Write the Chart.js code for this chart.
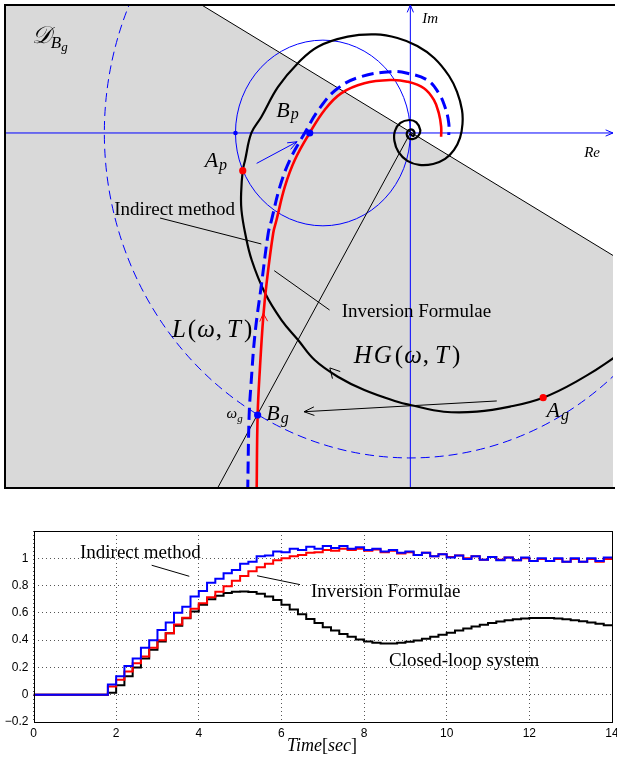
<!DOCTYPE html>
<html><head><meta charset="utf-8">
<script src="https://cdn.jsdelivr.net/npm/chart.js@4.4.1/dist/chart.umd.min.js"></script>
<style>
html,body{margin:0;padding:0;background:#fff;overflow:hidden;width:617px;height:760px;}
#top{position:absolute;left:0;top:0;}
#bot{position:absolute;left:0;top:500px;}
</style></head><body>
<canvas id="top" width="617" height="492"></canvas>
<canvas id="bot" width="640" height="260"></canvas>
<script>
// ================= TOP PANEL DATA (Re / Im plane) =================
const hgCurve = [[0,-0.01],[0.03,-0.028],[0.04,0.009],[0,0.033],[-0.035,0],[-0.02,-0.047],[0.03,-0.057],[0.08,-0.028],[0.10,0.028],[0.06,0.10],[-0.01,0.123],[-0.10,0.095],[-0.155,0.019],[-0.16,-0.076],[-0.12,-0.18],[-0.03,-0.265],[0.09,-0.303],[0.23,-0.294],[0.35,-0.246],[0.44,-0.161],[0.50,-0.047],[0.525,0.085],[0.52,0.218],[0.47,0.389],[0.39,0.540],[0.24,0.711],[0.07,0.825],[-0.13,0.900],[-0.35,0.934],[-0.63,0.913],[-0.93,0.818],[-1.13,0.664],[-1.33,0.439],[-1.50,0.152],[-1.60,0],[-1.663,-0.256],[-1.687,-0.357],[-1.703,-0.569],[-1.70,-0.73],[-1.663,-0.948],[-1.597,-1.204],[-1.463,-1.517],[-1.297,-1.773],[-1.13,-1.962],[-0.963,-2.152],[-0.73,-2.31],[-0.463,-2.436],[-0.13,-2.547],[0,-2.578],[0.337,-2.642],[0.67,-2.642],[1.003,-2.594],[1.337,-2.509],[1.67,-2.357],[2.04,-2.136],[2.27,-1.95]];
const lCurve = [[-1.637,-3.40],[-1.623,-2.689],[-1.603,-2.373],[-1.563,-1.899],[-1.497,-1.425],[-1.43,-0.948],[-1.397,-0.825],[-1.313,-0.509],[-1.213,-0.256],[-1.063,0],[-0.913,0.234],[-0.73,0.424],[-0.497,0.534],[-0.197,0.581],[-0.03,0.566],[0.17,0.502],[0.287,0.376],[0.353,0.234],[0.387,0.092],[0.387,-0.019]];
const invCurve = [[-1.547,-3.40],[-1.537,-2.673],[-1.513,-2.215],[-1.48,-1.741],[-1.447,-1.425],[-1.38,-0.948],[-1.347,-0.825],[-1.263,-0.509],[-1.163,-0.256],[-1.013,0],[-0.863,0.218],[-0.697,0.376],[-0.463,0.471],[-0.197,0.502],[-0.03,0.486],[0.137,0.424],[0.237,0.313],[0.287,0.187],[0.31,0.06],[0.31,-0.035]];
const regionEdge = [[-4.08,1.213],[-2.10,1.213],[2.04,-1.161]];
const diagonal = [[-2.10,1.213],[2.04,-1.161]];
const gainRay = [[0,0],[-1.94,-3.365]];
const reAxis = [[-4.08,0],[2.04,0]];
const imAxis = [[0,-3.365],[0,1.213]];
const apArrow = [[-1.547,-0.288],[-1.14,-0.083]];
const agArrow = [[0.87,-2.54],[-1.07,-2.642]];
const indirectPtr = [[-2.52,-0.806],[-1.50,-1.052]];
const inversionPtr = [[-1.37,-1.305],[-0.813,-1.678]];
const circleP = {x:-0.88, y:0, r:0.88};
const circleG = {x:0, y:0, r:3.08};
const redDots = [[-1.687,-0.357],[1.337,-2.509]];      // A_p, A_g
const blueDots = [[-1.013,0],[-1.537,-2.673]];        // B_p, B_g
const smallBlueDot = [[-1.76,0]];
const topRange = {xmin:-4.08, xmax:2.04, ymin:-3.365, ymax:1.213};

// ================= BOTTOM PANEL DATA (step responses) =================
const samplePeriod = 0.2;
const indirectResp = [0,0,0,0,0,0,0,0,0,
 0.075,0.135,0.21,0.265,0.345,0.40,0.475,0.53,0.60,0.645,0.72,0.76,0.82,0.85,0.89,0.915,0.96,0.975,1.015,1.02,1.05,1.045,1.07,1.06,1.085,1.07,1.09,1.075,1.09,1.07,1.08,1.06,1.07,1.05,1.06,1.04,1.05,1.025,1.04,1.015,1.03,1.005,1.02,0.995,1.015,0.99,1.01,0.985,1.005,0.985,1.005,0.98,1.0,0.98,1.0,0.975,1.0,0.975,1.0,0.98,1.005,1.005];
const inversionResp = [0,0,0,0,0,0,0,0,0,
 0.06,0.11,0.17,0.23,0.28,0.345,0.40,0.45,0.515,0.565,0.63,0.67,0.715,0.755,0.795,0.835,0.87,0.905,0.935,0.96,0.985,1.0,1.015,1.025,1.04,1.045,1.06,1.055,1.07,1.06,1.07,1.055,1.065,1.045,1.055,1.035,1.045,1.025,1.04,1.015,1.03,1.01,1.02,1.0,1.015,0.99,1.01,0.99,1.005,0.985,1.0,0.98,0.995,0.98,0.995,0.975,0.995,0.975,0.995,0.975,0.995,0.995];
const closedLoopResp = [0,0,0,0,0,0,0,0,0,
 0.015,0.07,0.135,0.20,0.265,0.33,0.39,0.45,0.505,0.56,0.61,0.66,0.70,0.725,0.745,0.755,0.757,0.752,0.74,0.72,0.695,0.66,0.625,0.59,0.555,0.525,0.495,0.47,0.445,0.425,0.405,0.39,0.38,0.375,0.376,0.38,0.388,0.398,0.41,0.424,0.44,0.455,0.47,0.485,0.50,0.513,0.525,0.536,0.546,0.553,0.559,0.562,0.563,0.562,0.558,0.553,0.546,0.538,0.53,0.52,0.51,0.505];
const timeTicks = [0,2,4,6,8,10,12,14];
const respTicks = [-0.2,0,0.2,0.4,0.6,0.8,1];

// ================= helpers =================
const SERIF = '"Liberation Serif","Times New Roman",serif';
const SANS = '"Liberation Sans",Arial,sans-serif';
const P = a => a.map(([x,y]) => ({x, y}));
function lineDs(arr, color, width, extra) {
  return Object.assign({data: P(arr), showLine: true, pointRadius: 0, borderColor: color,
    borderWidth: width, tension: 0, fill: false}, extra || {});
}
function rich(ctx, x, y, parts) {
  let cx = x;
  for (const p of parts) {
    ctx.font = p.f;
    ctx.fillText(p.t, cx, y + (p.dy || 0));
    cx += ctx.measureText(p.t).width + (p.sp || 0);
  }
}
function arrowHead(ctx, xs, ys, from, tip, color, len, half, lw) {
  const px = xs.getPixelForValue(tip[0]), py = ys.getPixelForValue(tip[1]);
  const qx = xs.getPixelForValue(from[0]), qy = ys.getPixelForValue(from[1]);
  const a = Math.atan2(py - qy, px - qx);
  ctx.save();
  ctx.strokeStyle = color; ctx.lineWidth = lw || 1;
  ctx.beginPath();
  ctx.moveTo(px - len * Math.cos(a - half), py - len * Math.sin(a - half));
  ctx.lineTo(px, py);
  ctx.lineTo(px - len * Math.cos(a + half), py - len * Math.sin(a + half));
  ctx.stroke();
  ctx.restore();
}

// ================= TOP CHART =================
const topPlugin = {
  id: 'topDecor',
  afterDatasetDraw(chart, args) {
    if (chart.data.datasets[args.index].label !== 'region') return;
    const ctx = chart.ctx, xs = chart.scales.x, ys = chart.scales.y, ca = chart.chartArea;
    ctx.save();
    ctx.beginPath(); ctx.rect(ca.left, ca.top, ca.right - ca.left, ca.bottom - ca.top); ctx.clip();
    for (const c of [circleP, circleG]) {
      const cx = xs.getPixelForValue(c.x), cy = ys.getPixelForValue(c.y);
      const rx = Math.abs(xs.getPixelForValue(c.x + c.r) - cx);
      const ry = Math.abs(ys.getPixelForValue(c.y + c.r) - cy);
      ctx.beginPath();
      ctx.ellipse(cx, cy, rx, ry, 0, 0, Math.PI * 2);
      ctx.strokeStyle = '#0000ff';
      ctx.lineWidth = 1;
      ctx.setLineDash(c === circleG ? [9, 5] : []);
      ctx.stroke();
    }
    ctx.restore();
  },
  afterDraw(chart) {
    const ctx = chart.ctx, xs = chart.scales.x, ys = chart.scales.y, ca = chart.chartArea;
    const X = v => xs.getPixelForValue(v), Y = v => ys.getPixelForValue(v);
    ctx.save();
    ctx.strokeStyle = '#000'; ctx.lineWidth = 2;
    ctx.beginPath();
    ctx.moveTo(ca.right + 2, ca.top); ctx.lineTo(ca.left, ca.top);
    ctx.lineTo(ca.left, ca.bottom); ctx.lineTo(ca.right + 2, ca.bottom);
    ctx.stroke();
    ctx.restore();
    arrowHead(ctx, xs, ys, [1.9, 0], [2.04, 0], '#0000ff', 8, 0.4, 1);
    arrowHead(ctx, xs, ys, [0, 1.0], [0, 1.213], '#0000ff', 8, 0.4, 1);
    arrowHead(ctx, xs, ys, apArrow[0], apArrow[1], '#0000ff', 10, 0.38, 1);
    arrowHead(ctx, xs, ys, agArrow[0], agArrow[1], '#000', 11, 0.4, 1);
    arrowHead(ctx, xs, ys, [-1.473, -1.85], [-1.48, -1.709], '#ff0000', 9, 0.45, 1);
    arrowHead(ctx, xs, ys, [-0.73, -2.31], [-0.81, -2.227], '#000', 11, 0.5, 1);
    ctx.save();
    ctx.fillStyle = '#000';
    ctx.textBaseline = 'alphabetic';
    const I = s => 'italic ' + s + 'px ' + SERIF, R = s => s + 'px ' + SERIF;
    rich(ctx, X(-3.81), Y(0.853), [{t:'𝒟', f:I(24), sp:0}, {t:'B', f:I(17), dy:5}, {t:'g', f:I(13), dy:8}]);
    rich(ctx, X(0.12), Y(1.043), [{t:'Im', f:I(15)}]);
    rich(ctx, X(1.75), Y(-0.227), [{t:'Re', f:I(15)}]);
    rich(ctx, X(-1.35), Y(0.152), [{t:'B', f:I(22), sp:1}, {t:'p', f:I(16), dy:2}]);
    rich(ctx, X(-2.07), Y(-0.322), [{t:'A', f:I(22), sp:1}, {t:'p', f:I(16), dy:3}]);
    rich(ctx, X(-1.45), Y(-2.72), [{t:'B', f:I(22), sp:1}, {t:'g', f:I(16), dy:3}]);
    rich(ctx, X(1.37), Y(-2.692), [{t:'A', f:I(22), sp:1}, {t:'g', f:I(16), dy:3}]);
    rich(ctx, X(-1.85), Y(-2.701), [{t:'ω', f:I(15)}, {t:'g', f:I(11), dy:4}]);
    rich(ctx, X(-2.98), Y(-0.777), [{t:'Indirect method', f:R(19)}]);
    rich(ctx, X(-0.69), Y(-1.744), [{t:'Inversion Formulae', f:R(19)}]);
    rich(ctx, X(-2.40), Y(-1.934), [{t:'L', f:I(25), sp:2}, {t:'(', f:R(25), sp:1}, {t:'ω', f:I(25), sp:1}, {t:',', f:R(25), sp:5}, {t:'T', f:I(25), sp:3}, {t:')', f:R(25)}]);
    rich(ctx, X(-0.57), Y(-2.18), [{t:'H', f:I(25), sp:2}, {t:'G', f:I(25), sp:3}, {t:'(', f:R(25), sp:1}, {t:'ω', f:I(25), sp:1}, {t:',', f:R(25), sp:6}, {t:'T', f:I(25), sp:3}, {t:')', f:R(25)}]);
    ctx.restore();
  }
};

new Chart(document.getElementById('top'), {
  type: 'scatter',
  data: { datasets: [
    Object.assign(lineDs(regionEdge, 'rgba(0,0,0,0)', 0), {label: 'region', fill: 'start', backgroundColor: '#d9d9d9', order: 100}),
    lineDs(reAxis, '#0000ff', 1, {order: 50}),
    lineDs(imAxis, '#0000ff', 1, {order: 50}),
    lineDs(diagonal, '#000', 1, {order: 45}),
    lineDs(gainRay, '#000', 1, {order: 45}),
    lineDs(indirectPtr, '#000', 1, {order: 45}),
    lineDs(inversionPtr, '#000', 1, {order: 45}),
    lineDs(apArrow, '#0000ff', 1, {order: 45}),
    lineDs(agArrow, '#000', 1, {order: 45}),
    lineDs(hgCurve, '#000', 2.2, {tension: 0.4, order: 30}),
    lineDs(lCurve, '#0000ff', 3, {tension: 0.4, borderDash: [12, 6], order: 20}),
    lineDs(invCurve, '#ff0000', 2.6, {tension: 0.4, order: 10}),
    {data: P(smallBlueDot), pointRadius: 2.3, backgroundColor: '#0000ff', borderWidth: 0, order: 1},
    {data: P(blueDots), pointRadius: 3.6, backgroundColor: '#0000ff', borderWidth: 0, order: 1},
    {data: P(redDots), pointRadius: 3.6, backgroundColor: '#ff0000', borderWidth: 0, order: 1}
  ]},
  options: {
    responsive: false, animation: false, devicePixelRatio: 1, events: [],
    layout: {padding: {left: 5, top: 5, right: 0, bottom: 4}},
    elements: {line: {capBezierPoints: false}},
    scales: {
      x: {type: 'linear', display: false, min: topRange.xmin, max: topRange.xmax},
      y: {type: 'linear', display: false, min: topRange.ymin, max: topRange.ymax}
    },
    plugins: {legend: {display: false}, tooltip: {enabled: false}}
  },
  plugins: [topPlugin]
});

// ================= BOTTOM CHART =================
const stepData = vals => vals.map((v, k) => ({x: +(k * samplePeriod).toFixed(1), y: v}));
const botPlugin = {
  id: 'botDecor',
  afterDraw(chart) {
    const ctx = chart.ctx, xs = chart.scales.x, ys = chart.scales.y, ca = chart.chartArea;
    const X = v => xs.getPixelForValue(v), Y = v => ys.getPixelForValue(v);
    ctx.save();
    ctx.strokeStyle = '#000'; ctx.lineWidth = 1;
    ctx.strokeRect(Math.round(ca.left) + 0.5, Math.round(ca.top) + 0.5,
      Math.round(ca.right - ca.left) - 1, Math.round(ca.bottom - ca.top));
    ctx.fillStyle = '#000';
    const R = s => s + 'px ' + SERIF, I = s => 'italic ' + s + 'px ' + SERIF;
    rich(ctx, X(1.125), Y(1.0), [{t:'Indirect method', f:R(19)}]);
    rich(ctx, X(6.716), Y(0.714), [{t:'Inversion Formulae', f:R(19)}]);
    rich(ctx, X(8.603), Y(0.208), [{t:'Closed-loop system', f:R(19)}]);
    rich(ctx, 287, 251, [{t:'Time', f:I(18)}, {t:'[', f:R(18)}, {t:'sec', f:I(18)}, {t:']', f:R(18)}]);
    ctx.restore();
  }
};
new Chart(document.getElementById('bot'), {
  type: 'scatter',
  data: { datasets: [
    {data: stepData(indirectResp), showLine: true, stepped: 'before', pointRadius: 0, borderColor: '#0000ff', borderWidth: 2, order: 0},
    {data: stepData(inversionResp), showLine: true, stepped: 'before', pointRadius: 0, borderColor: '#ff0000', borderWidth: 2, order: 1},
    {data: stepData(closedLoopResp), showLine: true, stepped: 'before', pointRadius: 0, borderColor: '#000', borderWidth: 2, order: 2},
    {data: [{x:2.86,y:0.949},{x:3.77,y:0.868}], showLine: true, pointRadius: 0, borderColor: '#000', borderWidth: 1, order: 3},
    {data: [{x:5.41,y:0.872},{x:6.45,y:0.807}], showLine: true, pointRadius: 0, borderColor: '#000', borderWidth: 1, order: 3}
  ]},
  options: {
    responsive: false, animation: false, devicePixelRatio: 1, events: [],
    layout: {padding: {left: 0, top: 31, right: 28, bottom: 0}},
    scales: {
      x: {type: 'linear', min: 0, max: 14,
        afterFit: s => { s.height = 38; },
        afterBuildTicks: s => { s.ticks = timeTicks.map(v => ({value: v})); },
        ticks: {color: '#000', font: {family: SANS, size: 12}, padding: 4, maxRotation: 0, autoSkip: false},
        grid: {color: '#555', lineWidth: 1, drawTicks: false},
        border: {display: false, dash: [1, 3]}},
      y: {type: 'linear', min: -0.2, max: 1.2,
        afterFit: s => { s.width = 33.5; },
        afterBuildTicks: s => { s.ticks = respTicks.map(v => ({value: v})); },
        ticks: {color: '#000', font: {family: SANS, size: 12}, padding: 5,
          callback: v => String(+v.toFixed(1)).replace('-', '\u2212')},
        grid: {color: '#555', lineWidth: 1, drawTicks: false},
        border: {display: false, dash: [1, 3]}}
    },
    plugins: {legend: {display: false}, tooltip: {enabled: false}}
  },
  plugins: [botPlugin]
});
</script>
</body></html>
